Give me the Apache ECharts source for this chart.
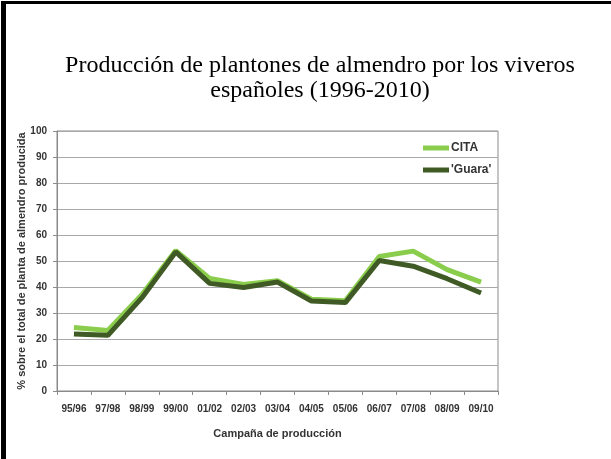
<!DOCTYPE html>
<html>
<head>
<meta charset="utf-8">
<script src="https://cdn.jsdelivr.net/npm/echarts@6/dist/echarts.min.js"></script>
<style>
  html, body { margin: 0; padding: 0; background: #fff; }
  #chart { width: 611px; height: 459px; }
</style>
</head>
<body>
<div id="chart"></div>
<script>
// campañas de producción
const campaigns = ['95/96', '97/98', '98/99', '99/00', '01/02', '02/03', '03/04', '04/05', '05/06', '06/07', '07/08', '08/09', '09/10']
// % sobre el total de planta de almendro producida
const citaValues = [24.4, 23.3, 37, 54, 43.3, 41, 42.4, 35.3, 34.7, 51.7, 53.8, 46.7, 41.9]
const guaraValues = [21.9, 21.4, 35.8, 53.5, 41.4, 39.8, 41.9, 34.6, 34, 50.2, 48, 43.2, 37.7]
const yTicks = [0, 10, 20, 30, 40, 50, 60, 70, 80, 90, 100]

const labelFont = {
  fontFamily: '"Liberation Sans", Arial, sans-serif',
  fontWeight: 'bold',
  fontSize: 10,
  color: '#333'
}

const chart = echarts.init(document.getElementById('chart'))
chart.setOption({
  animation: false,
  backgroundColor: '#fff',
  title: {
    text: 'Producción de plantones de almendro por los viveros\nespañoles (1996-2010)',
    left: 315,
    textAlign: 'center',
    top: 48,
    textStyle: {
      fontFamily: '"Liberation Serif", "Times New Roman", serif',
      fontWeight: 'normal',
      fontSize: 24,
      lineHeight: 25,
      color: '#000'
    }
  },
  // marco negro
  graphic: [
    { type: 'rect', shape: { x: 1, y: 1, width: 611, height: 3 }, style: { fill: '#000' } },
    { type: 'rect', shape: { x: 1, y: 1, width: 5, height: 459 }, style: { fill: '#000' } }
  ],
  legend: {
    left: 418,
    top: 137,
    orient: 'vertical',
    itemGap: 10,
    itemWidth: 26,
    itemHeight: 5,
    icon: 'rect',
    textStyle: Object.assign({}, labelFont, { fontSize: 12, padding: [0, 0, 0, -3] }),
    data: ['CITA', "'Guara'"]
  },
  grid: {
    left: 57,
    right: 113,
    top: 131,
    bottom: 68,
    show: true,
    borderColor: '#8a8a8a',
    borderWidth: 1
  },
  xAxis: {
    type: 'category',
    data: campaigns,
    boundaryGap: true,
    name: 'Campaña de producción',
    nameLocation: 'middle',
    nameGap: 37,
    nameTextStyle: Object.assign({}, labelFont, { fontSize: 11 }),
    axisLine: { lineStyle: { color: '#8a8a8a' } },
    axisTick: { show: true, length: 4, lineStyle: { color: '#8a8a8a' } },
    axisLabel: Object.assign({ margin: 13, interval: 0 }, labelFont)
  },
  yAxis: {
    type: 'value',
    min: yTicks[0],
    max: yTicks[yTicks.length - 1],
    interval: 10,
    name: '% sobre el total de planta de almendro producida',
    nameLocation: 'middle',
    nameGap: 30,
    nameMoveOverlap: false,
    nameTextStyle: Object.assign({}, labelFont, { fontSize: 11 }),
    axisLine: { show: true, lineStyle: { color: '#8a8a8a' } },
    axisTick: { show: true, length: 4, lineStyle: { color: '#8a8a8a' } },
    axisLabel: Object.assign({ margin: 10 }, labelFont),
    splitLine: { lineStyle: { color: '#a8a8a8', width: 1 } }
  },
  series: [
    {
      name: 'CITA',
      type: 'line',
      data: citaValues,
      showSymbol: false,
      symbol: 'none',
      itemStyle: { color: '#8acd4c' },
      lineStyle: { color: '#8acd4c', width: 5 }
    },
    {
      name: "'Guara'",
      type: 'line',
      data: guaraValues,
      showSymbol: false,
      symbol: 'none',
      itemStyle: { color: '#3f5a24' },
      lineStyle: { color: '#3f5a24', width: 5 }
    }
  ]
})
</script>
</body>
</html>
